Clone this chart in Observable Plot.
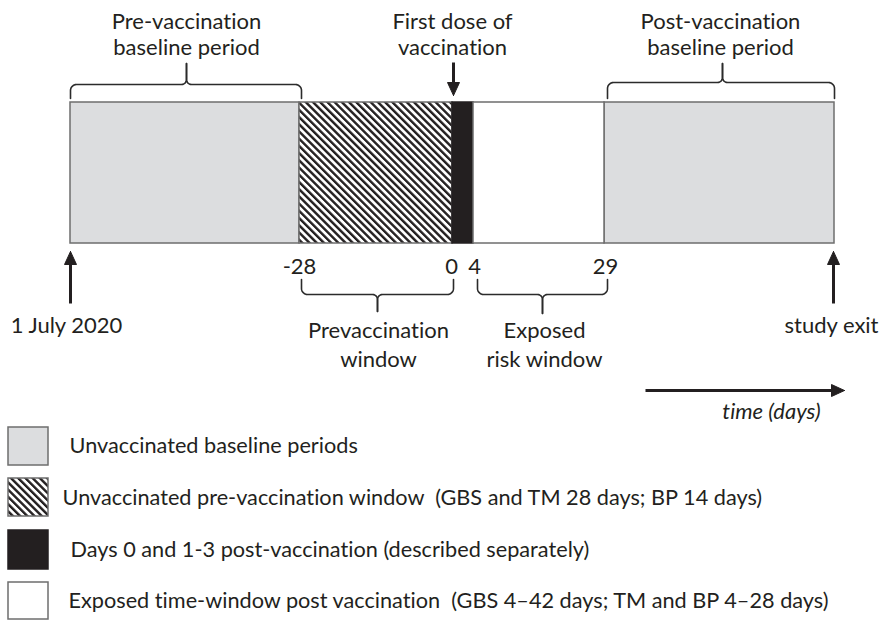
<!DOCTYPE html>
<html>
<head>
<meta charset="utf-8">
<script src="https://cdn.jsdelivr.net/npm/d3@7"></script>
<script src="https://cdn.jsdelivr.net/npm/@observablehq/plot@0.6"></script>
<style>
  html, body { margin: 0; padding: 0; background: #fff; }
  svg text { font-variant-ligatures: none; font-feature-settings: "liga" 0; }
</style>
</head>
<body>
<div id="chart"></div>
<script>
// ---- Data (diagram content) ----
const segmentNames = ["Pre-vaccination baseline", "Pre-vaccination window", "Days 0–3", "Exposed risk window", "Post-vaccination baseline"];
const segmentKinds = ["baseline", "hatch", "dose", "risk", "baseline"];
const dayTickLabels = ["-28", "0", "4", "29"];
const topLabels = ["Pre-vaccination\nbaseline period", "First dose of\nvaccination", "Post-vaccination\nbaseline period"];
const bottomLabels = ["Prevaccination\nwindow", "Exposed\nrisk window"];
const endLabels = ["1 July 2020", "study exit"];
const axisLabel = "time (days)";
const legendKinds = ["baseline", "hatch", "dose", "risk"];
const legendLabels = [
  "Unvaccinated baseline periods",
  "Unvaccinated pre-vaccination window  (GBS and TM 28 days; BP 14 days)",
  "Days 0 and 1-3 post-vaccination (described separately)",
  "Exposed time-window post vaccination  (GBS 4\u201342 days; TM and BP 4\u201328 days)"
];

// ---- Layout (diagram units = pixels) ----
const segEdges = [70, 299, 452, 473, 604, 834];
const barTop = 102, barBottom = 243;
const tickX = [299, 451, 474, 605];
const FONT = "Lato";
const INK = "#231f20";
const EDGE = "#6e6e6e";
const fills = {baseline: "#dcdddf", hatch: "url(#hatch)", dose: "#231f20", risk: "#ffffff"};

const segments = segmentNames.map((name, i) => ({name, kind: segmentKinds[i], x1: segEdges[i], x2: segEdges[i + 1]}));

// brace geometry: ends at yEnd, straight part at yLine, tip at yTip
function brace(id, x1, x2, xm, yEnd, yLine, yTip, r = 6, r2 = 5) {
  const s = Math.sign(yEnd - yLine);
  const pts = [];
  const arc = (cx, cy, a0, a1, rad, half) => {
    for (let k = 0; k <= 8; k++) {
      const a = a0 + (a1 - a0) * k / 8;
      pts.push({id: id + half, x: cx + rad * Math.cos(a), y: cy + rad * Math.sin(a)});
    }
  };
  pts.push({id: id + "L", x: x1, y: yEnd});
  arc(x1 + r, yLine + s * r, Math.PI, s > 0 ? 1.5 * Math.PI : 0.5 * Math.PI, r, "L");
  arc(xm - r2, yLine - s * r2, s > 0 ? 0.5 * Math.PI : 1.5 * Math.PI, s > 0 ? 0 : 2 * Math.PI, r2, "L");
  pts.push({id: id + "L", x: xm, y: yTip});
  pts.push({id: id + "R", x: xm, y: yTip});
  arc(xm + r2, yLine - s * r2, Math.PI, s > 0 ? 0.5 * Math.PI : 1.5 * Math.PI, r2, "R");
  arc(x2 - r, yLine + s * r, s > 0 ? 1.5 * Math.PI : 0.5 * Math.PI, s > 0 ? 2 * Math.PI : 0, r, "R");
  pts.push({id: id + "R", x: x2, y: yEnd});
  return pts;
}
const braces = [
  ...brace("t1", 70, 301, 186, 98, 84, 63),
  ...brace("t2", 607, 834, 722, 98, 82, 63),
  ...brace("b1", 301, 453, 377, 279, 294, 311),
  ...brace("b2", 477, 607, 542, 279, 294, 313)
];

// arrows: shaft + filled head (triangle)
const arrows = [
  {id: "dose", x1: 453, y1: 62, x2: 453, y2: 95},
  {id: "start", x1: 70, y1: 303, x2: 70, y2: 251},
  {id: "exit", x1: 833, y1: 303, x2: 833, y2: 251},
  {id: "time", x1: 645, y1: 390, x2: 844, y2: 390}
];
const headLen = 13, headHalf = 6;
const shafts = arrows.map(a => {
  const dx = a.x2 - a.x1, dy = a.y2 - a.y1, L = Math.hypot(dx, dy);
  return {x1: a.x1, y1: a.y1, x2: a.x2 - dx / L * (headLen - 1), y2: a.y2 - dy / L * (headLen - 1)};
});
const heads = arrows.flatMap(a => {
  const dx = a.x2 - a.x1, dy = a.y2 - a.y1, L = Math.hypot(dx, dy);
  const ux = dx / L, uy = dy / L, bx = a.x2 - ux * headLen, by = a.y2 - uy * headLen;
  return [
    {id: a.id, x: a.x2, y: a.y2},
    {id: a.id, x: bx - uy * headHalf, y: by + ux * headHalf},
    {id: a.id, x: bx + uy * headHalf, y: by - ux * headHalf},
    {id: a.id, x: a.x2, y: a.y2}
  ];
});

const topText = topLabels.map((t, i) => ({t, x: [186, 452, 720][i], y: 33}));
const tickText = dayTickLabels.map((t, i) => ({t, x: tickX[i], y: 266}));
const bottomText = bottomLabels.map((t, i) => ({t, x: [378, 544][i], y: 343}));
const endText = endLabels.map((t, i) => ({t, x: [66, 831][i], y: 325}));

const legendBoxY = [[427, 465], [478, 516], [530, 569], [582, 619]];
const legendTextX = [69, 62, 70, 68];
const legendTextY = [446, 498, 550, 601];
const legend = legendKinds.map((k, i) => ({kind: k, label: legendLabels[i], y1: legendBoxY[i][0], y2: legendBoxY[i][1], tx: legendTextX[i], ty: legendTextY[i]}));

function hatchDefs() {
  const defs = d3.create("svg:defs");
  const p = defs.append("pattern")
    .attr("id", "hatch")
    .attr("patternUnits", "userSpaceOnUse")
    .attr("width", 5.1).attr("height", 10)
    .attr("patternTransform", "rotate(-45)");
  p.append("rect").attr("width", 5.1).attr("height", 10).attr("fill", "#fff");
  p.append("rect").attr("width", 2.4).attr("height", 10).attr("fill", INK);
  return defs.node();
}

const plot = Plot.plot({
  width: 881,
  height: 620,
  margin: 0,
  x: {domain: [0, 881], range: [0, 881], axis: null},
  y: {domain: [0, 620], range: [0, 620], axis: null},
  style: {fontFamily: FONT, color: INK, background: "#fff"},
  marks: [
    hatchDefs,
    ...segmentKinds.filter((k, i, a) => a.indexOf(k) === i).map(k =>
      Plot.rect(segments.filter(d => d.kind === k), {
        x1: "x1", x2: "x2", y1: barTop, y2: barBottom,
        fill: fills[k], stroke: k === "dose" ? INK : EDGE, strokeWidth: 1.5
      })
    ),
    Plot.line(braces, {x: "x", y: "y", z: "id", stroke: "#2b2b2b", strokeWidth: 1.6, strokeLinejoin: "round"}),
    Plot.link(shafts, {x1: "x1", y1: "y1", x2: "x2", y2: "y2", stroke: INK, strokeWidth: 3}),
    Plot.line(heads, {x: "x", y: "y", z: "id", fill: INK, stroke: INK, strokeWidth: 1}),
    Plot.text(topText, {x: "x", y: "y", text: "t", fontSize: 22, lineHeight: 1.18, fill: INK}),
    Plot.text(tickText, {x: "x", y: "y", text: "t", fontSize: 22, fill: INK}),
    Plot.text(bottomText, {x: "x", y: "y", text: "t", fontSize: 22, lineHeight: 1.3, fill: INK}),
    Plot.text(endText, {x: "x", y: "y", text: "t", fontSize: 22, fill: INK}),
    Plot.text([axisLabel], {x: 771, y: 411, text: d => d, fontSize: 22, fontStyle: "italic", fill: INK}),
    ...legendKinds.map(k =>
      Plot.rect(legend.filter(d => d.kind === k), {
        x1: 8, x2: 48, y1: "y1", y2: "y2",
        fill: fills[k], stroke: k === "dose" ? INK : EDGE, strokeWidth: 1.5
      })
    ),
    Plot.text(legend, {x: "tx", y: "ty", text: "label", textAnchor: "start", fontSize: 21.7, fill: INK})
  ]
});
document.getElementById("chart").append(plot);
</script>
</body>
</html>
